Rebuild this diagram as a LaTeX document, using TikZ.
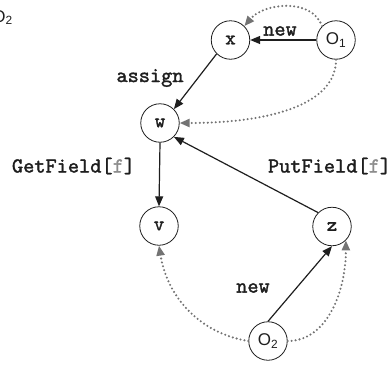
\documentclass[tikz,border=0pt]{standalone}
\usepackage{fontspec}
\newfontfamily\sansf{Liberation Sans}
\newfontfamily\ttb{lmmono10-regular}[Extension=.otf, FakeBold=1.6]
\usetikzlibrary{arrows.meta}
\definecolor{dotgray}{RGB}{115,115,115}
\definecolor{fgray}{RGB}{140,140,140}
\definecolor{ink}{RGB}{30,30,30}
\tikzset{
  vnode/.style={circle, draw=ink, line width=0.8pt, minimum size=38.5pt, inner sep=0pt, text=ink, font=\ttb\bfseries\fontsize{20}{20}\selectfont},
  onode/.style={circle, draw=ink, line width=0.8pt, minimum size=38.5pt, inner sep=0pt, text=ink, font=\sansf\fontsize{17}{17}\selectfont},
  lbl/.style={inner sep=0pt, text=ink, font=\ttb\bfseries\fontsize{21.3}{21.3}\selectfont},
  solidedge/.style={draw=ink, line width=1.2pt, -{Triangle[length=10pt,width=8pt]}},
  dotedge/.style={draw=dotgray, line width=2.3pt, line cap=round, dash pattern=on 0pt off 4pt, -{Triangle[length=10pt,width=8pt,line cap=butt]}, shorten >=0pt},
}
\begin{document}
\begin{tikzpicture}[x=1pt,y=-1pt]
\useasboundingbox (0,0) rectangle (391,367);
\node[inner sep=0pt, anchor=base east, text=ink, font=\sansf\fontsize{17}{17}\selectfont] (frag) at (13,22) {O\textsubscript{2}};
\node[vnode] (x) at (230.5,40) {x};
\node[onode] (o1) at (336,40) {O\textsubscript{1}};
\node[vnode] (w) at (160,123) {w};
\node[vnode] (v) at (159,226) {v};
\node[vnode] (z) at (332,226.5) {z};
\node[onode] (o2) at (268,341) {O\textsubscript{2}};
\node[lbl] (lnew1) at (280,31) {new};
\node[lbl] (lassign) at (150,78) {assign};
\node[lbl] (lget) at (73.5,166) {GetField[\textcolor{fgray}{f}]};
\node[lbl] (lput) at (329.5,166) {PutField[\textcolor{fgray}{f}]};
\node[lbl] (lnew2) at (253,288) {new};
\draw[solidedge] (o1.west) -- (x.east);
\draw[solidedge] (x.south west) -- (w.north east);
\draw[solidedge] (w.south) -- (v.north);
\draw[solidedge] (z.north west) -- (w.south east);
\draw[solidedge] (o2.north) -- (z.south);
\draw[dotedge] (o1.north west) to[out=110,in=50] (x.north east);
\draw[dotedge] (o1.south) .. controls +(0,45) and +(90,0) .. (w.east);
\draw[dotedge] (o2.west) .. controls +(-50,-8) and +(8,50) .. (v.south);
\draw[dotedge] (o2.east) .. controls +(40,0) and +(0,50) .. (z.south east);
\end{tikzpicture}
\end{document}
